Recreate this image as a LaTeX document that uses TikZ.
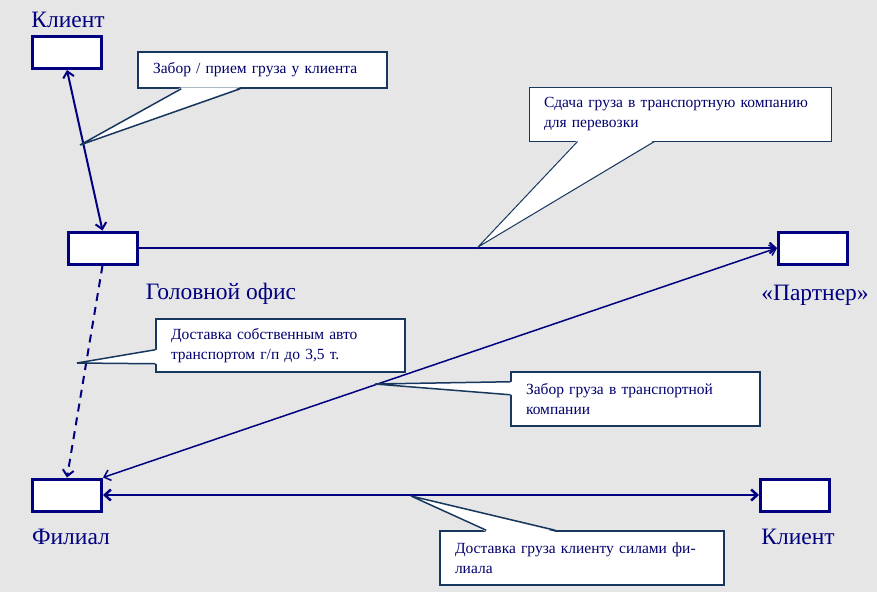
\documentclass[tikz,border=0pt]{standalone}
\usepackage{fontspec}
\setmainfont{Liberation Serif}
\usetikzlibrary{arrows.meta}

\definecolor{boxnavy}{RGB}{0,0,128}
\definecolor{noteblue}{RGB}{23,55,94}
\definecolor{textnavy}{RGB}{0,0,110}
\definecolor{bggray}{RGB}{230,230,230}

\begin{document}
\begin{tikzpicture}[x=1pt, y=-1pt,
        >={Straight Barb[length=6pt,width=11pt]},
        place/.style={draw=boxnavy, line width=3pt, fill=white, minimum width=69pt, minimum height=32pt, inner sep=0pt},
        caption/.style={text=boxnavy, font=\fontsize{23.5}{27}\selectfont, anchor=base, inner sep=0pt},
        note/.style={draw=noteblue, line width=1.5pt, fill=white, inner xsep=15pt, inner ysep=0pt, align=left, text=textnavy, font=\fontsize{15.5}{20}\selectfont},
        link/.style={boxnavy, line width=2pt},
        wedge/.style={draw=noteblue, line width=1.5pt, line join=miter}]

        % Background
        \fill[bggray] (0,0) rectangle (877,592);
        \useasboundingbox (0,0) rectangle (877,592);

        % Nodes
        \node[place] (client) at (67,52.5) {};
        \node[place] (office) at (102.5,248) {};
        \node[place] (partner) at (813,248) {};
        \node[place] (branch) at (67,495) {};
        \node[place] (receiver) at (795,495) {};

        % Labels
        \node[caption] (clientlbl) at (68,27) {Клиент};
        \node[caption] (officelbl) at (221,299) {Головной офис};
        \node[caption] (partnerlbl) at (815,300) {«Партнер»};
        \node[caption] (branchlbl) at (71,544) {Филиал};
        \node[caption] (receiverlbl) at (798,544) {Клиент};

        % Edges
        \draw[link, <->] (client.south) -- (office.north);
        \draw[link, ->] (office.east) -- (partner.west);
        \draw[link, <->, line width=1.5pt] (branch.north east) -- (partner.west);
        \draw[link, ->, dash pattern=on 8pt off 6pt] (office.south) -- (branch.north);
        \draw[link, <->, line width=2.5pt] (branch.east) -- (receiver.west);

        % Callout tips
        \coordinate (tip1) at (80,145);
        \coordinate (tip2) at (478,247);
        \coordinate (tip3) at (77,363);
        \coordinate (tip4) at (375,384);
        \coordinate (tip5) at (411,496);

        % Callouts
        \node[note, minimum width=249pt, minimum height=36pt, text width=219pt] (pickup) at (262.5,70) {Забор / прием груза у клиента};
        \fill[white] ([xshift=44pt,yshift=1.5pt]pickup.south west) -- (tip1) -- ([xshift=103pt,yshift=1.5pt]pickup.south west) -- cycle;
        \draw[wedge] ([xshift=44pt]pickup.south west) -- (tip1) -- ([xshift=103pt]pickup.south west);

        \node[note, line width=1pt, minimum width=302pt, minimum height=54pt, text width=272pt] (handover) at (680,114) {Сдача груза в транспортную компанию\\для перевозки};
        \fill[white] ([xshift=49pt,yshift=1.5pt]handover.south west) -- (tip2) -- ([xshift=126pt,yshift=1.5pt]handover.south west) -- cycle;
        \draw[wedge, line width=1pt] ([xshift=49pt]handover.south west) -- (tip2) -- ([xshift=126pt]handover.south west);

        \node[note, minimum width=249pt, minimum height=53pt, text width=219pt] (owncar) at (280.5,345.5) {Доставка собственным авто\\транспортом г/п до 3,5 т.};
        \fill[white] ([xshift=1.5pt,yshift=23pt]owncar.south west) -- (tip3) -- ([xshift=1.5pt,yshift=9pt]owncar.south west) -- cycle;
        \draw[wedge] ([yshift=23pt]owncar.south west) -- (tip3) -- ([yshift=9pt]owncar.south west);

        \node[note, minimum width=249pt, minimum height=54pt, text width=219pt] (collect) at (635.5,399) {Забор груза в транспортной\\компании};
        \fill[white] ([xshift=1.5pt,yshift=45pt]collect.south west) -- (tip4) -- ([xshift=1.5pt,yshift=32pt]collect.south west) -- cycle;
        \draw[wedge] ([yshift=45pt]collect.south west) -- (tip4) -- ([yshift=32pt]collect.south west);

        \node[note, minimum width=284pt, minimum height=54pt, text width=254pt] (lastmile) at (582,558) {Доставка груза клиенту силами фи-\\лиала};
        \fill[white] ([xshift=47pt,yshift=-1.5pt]lastmile.north west) -- (tip5) -- ([xshift=116pt,yshift=-1.5pt]lastmile.north west) -- cycle;
        \draw[wedge] ([xshift=47pt]lastmile.north west) -- (tip5) -- ([xshift=116pt]lastmile.north west);
    \end{tikzpicture}
\end{document}
